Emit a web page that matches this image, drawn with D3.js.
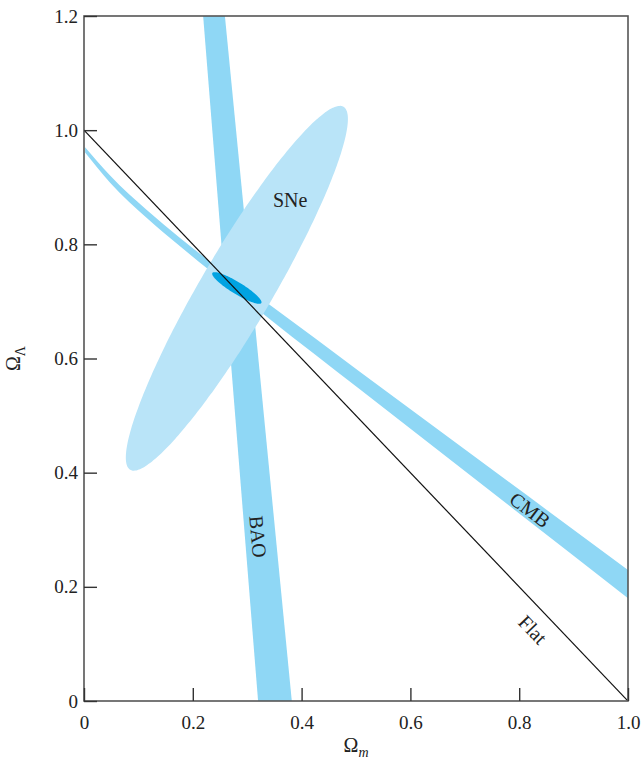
<!DOCTYPE html>
<html><head><meta charset="utf-8">
<script src="https://cdn.jsdelivr.net/npm/d3@7"></script>
<style>body{margin:0;background:#fff}</style>
</head><body><svg id="c" width="642" height="767"></svg>
<script>
// ---- data (all in data units: Omega_m, Omega_Lambda) ----
const xTicks = [0, 0.2, 0.4, 0.6, 0.8, 1.0];
const xTickLabels = ["0", "0.2", "0.4", "0.6", "0.8", "1.0"];
const yTicks = [0, 0.2, 0.4, 0.6, 0.8, 1.0, 1.2];
const yTickLabels = ["0", "0.2", "0.4", "0.6", "0.8", "1.0", "1.2"];

// BAO band: left and right edges
const baoLeft = [[0.219, 1.2], [0.320, 0]];
const baoRight = [[0.259, 1.2], [0.382, 0]];

// CMB band: upper and lower edges sampled at common Omega_m
const cmbOmegaM = [0.002, 0.048, 0.116, 0.176, 0.226, 0.340, 0.507, 1.0];
const cmbUpper  = [0.970, 0.9205, 0.8595, 0.8117, 0.774, 0.695, 0.577, 0.2295];
const cmbLower  = [0.961, 0.908, 0.8455, 0.797, 0.758, 0.670, 0.546, 0.180];

// SNe confidence ellipse: centre and conjugate semi-axes
const sneCenter = [0.281, 0.723];
const sneAxisA = [0.196, 0.318];
const sneAxisB = [0.057, -0.0315];

// combined constraint ellipse
const combCenter = [0.281, 0.7235];
const combAxisA = [0.045, -0.0263];
const combAxisB = [-0.0057, -0.0089];

// flat universe line
const flatLine = [[0, 1], [1, 0]];

// annotations
const labelText = ["SNe", "BAO", "CMB", "Flat"];
const labelAt = [[0.379, 0.877], [0.320, 0.288], [0.820, 0.335], [0.825, 0.125]];
const labelRot = [0, 85, 37, 46];

// ---- layout ----
const W = 642, H = 767;
const m = {left: 84, right: 14, top: 16, bottom: 66};
const svg = d3.select("#c");
const x = d3.scaleLinear().domain([0, 1]).range([m.left, W - m.right]);
const y = d3.scaleLinear().domain([0, 1.2]).range([H - m.bottom, m.top]);
const FONT = "'Liberation Serif', 'Times New Roman', serif";

svg.append("defs").append("clipPath").attr("id", "clip")
  .append("rect").attr("x", m.left).attr("y", m.top)
  .attr("width", W - m.left - m.right).attr("height", H - m.top - m.bottom);

const plot = svg.append("g").attr("clip-path", "url(#clip)");

const BAND = "#8fd7f5", SNE = "#b9e4f8", COMB = "#00a3e2";

// BAO
const baoPoly = baoLeft.concat(baoRight.slice().reverse());
plot.append("path")
  .attr("d", d3.line().x(d => x(d[0])).y(d => y(d[1]))(baoPoly) + "Z")
  .attr("fill", BAND);

// CMB
const cmbData = cmbOmegaM.map((v, i) => ({m: v, u: cmbUpper[i], l: cmbLower[i]}));
plot.append("path")
  .attr("d", d3.area().x(d => x(d.m)).y0(d => y(d.l)).y1(d => y(d.u))
    .curve(d3.curveMonotoneX)(cmbData))
  .attr("fill", BAND);

function ellipsePts(c, a, b) {
  return d3.range(0, 360, 2).map(t => {
    const r = t * Math.PI / 180;
    return [c[0] + Math.cos(r) * a[0] + Math.sin(r) * b[0],
            c[1] + Math.cos(r) * a[1] + Math.sin(r) * b[1]];
  });
}
const closedLine = d3.line().x(d => x(d[0])).y(d => y(d[1])).curve(d3.curveCardinalClosed);

plot.append("path").attr("d", closedLine(ellipsePts(sneCenter, sneAxisA, sneAxisB))).attr("fill", SNE);
plot.append("path").attr("d", closedLine(ellipsePts(combCenter, combAxisA, combAxisB))).attr("fill", COMB);

// flat line
plot.append("path")
  .attr("d", d3.line().x(d => x(d[0])).y(d => y(d[1]))(flatLine))
  .attr("stroke", "#111").attr("stroke-width", 1.2).attr("fill", "none");

// labels
labelText.forEach((t, i) => {
  svg.append("text")
    .attr("transform", `translate(${x(labelAt[i][0])},${y(labelAt[i][1])}) rotate(${labelRot[i]})`)
    .attr("text-anchor", "middle").attr("dominant-baseline", "central")
    .attr("font-family", FONT).attr("font-size", 20).attr("fill", "#222")
    .text(t);
});

// frame
svg.append("rect").attr("x", x(0)).attr("y", y(1.2))
  .attr("width", x(1) - x(0)).attr("height", y(0) - y(1.2))
  .attr("fill", "none").attr("stroke", "#555").attr("stroke-width", 1.6);

// axes
const xAxis = d3.axisBottom(x).tickValues(xTicks).tickFormat((d, i) => xTickLabels[i])
  .tickSize(-13).tickPadding(15);
const gx = svg.append("g").attr("transform", `translate(0,${y(0)})`).call(xAxis);
gx.select(".domain").remove();
gx.selectAll("line").attr("stroke", "#333").attr("stroke-width", 1.4);
gx.selectAll("text").attr("font-family", FONT).attr("font-size", 19).attr("fill", "#222");

const yAxis = d3.axisLeft(y).tickValues(yTicks).tickFormat((d, i) => yTickLabels[i])
  .tickSize(-13).tickPadding(6);
const gy = svg.append("g").attr("transform", `translate(${x(0)},0)`).call(yAxis);
gy.select(".domain").remove();
gy.selectAll("line").attr("stroke", "#333").attr("stroke-width", 1.4);
gy.selectAll("text").attr("font-family", FONT).attr("font-size", 19).attr("fill", "#222");

// axis titles
const xt = svg.append("text").attr("x", (x(0) + x(1)) / 2).attr("y", 752)
  .attr("text-anchor", "middle").attr("font-family", FONT).attr("font-size", 20).attr("fill", "#222");
xt.append("tspan").text("Ω");
xt.append("tspan").attr("dy", 5).attr("font-size", 14).attr("font-style", "italic").text("m");

const yt = svg.append("text")
  .attr("transform", `translate(20,${(y(0) + y(1.2)) / 2}) rotate(-90)`)
  .attr("text-anchor", "middle").attr("font-family", FONT).attr("font-size", 20).attr("fill", "#222");
yt.append("tspan").text("Ω");
yt.append("tspan").attr("dy", 5).attr("font-size", 14).text("Λ");
</script>
</body></html>
